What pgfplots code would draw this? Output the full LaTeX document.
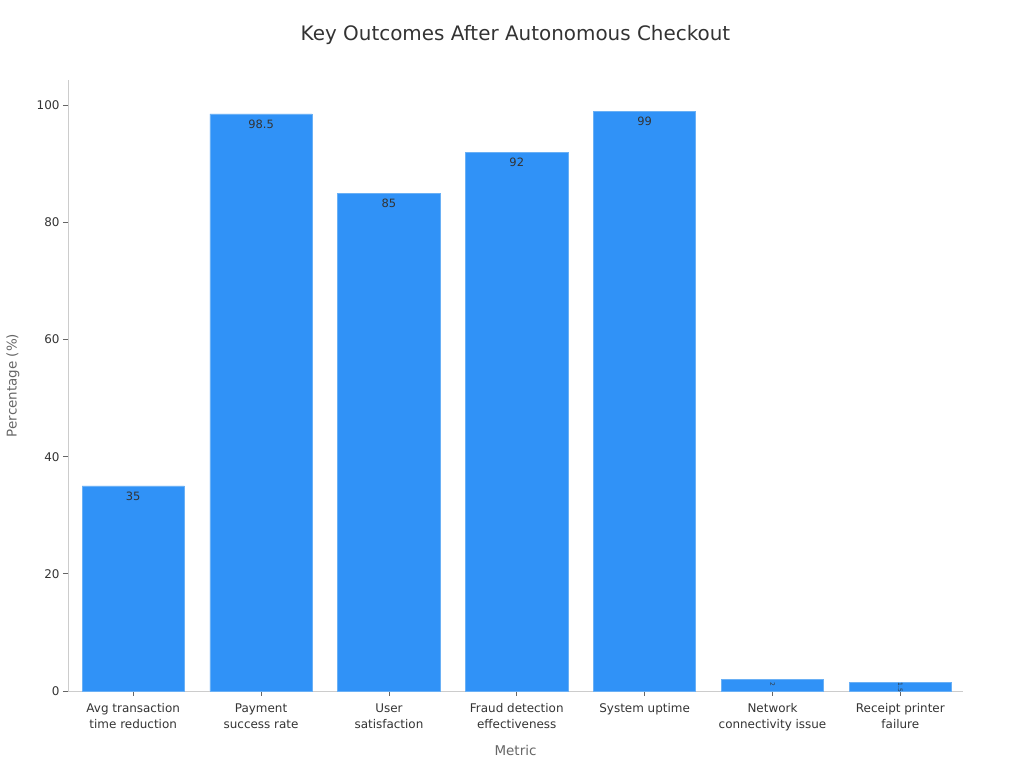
\documentclass[border=0pt]{standalone}
\usepackage{fontspec}
\setmainfont{DejaVu Sans}
\usepackage{pgfplots}
\pgfplotsset{compat=1.18}

\definecolor{barblue}{HTML}{3092F7}
\definecolor{baredge}{HTML}{6AB0F5}
\definecolor{axisgray}{HTML}{CCCCCC}
\definecolor{textdark}{HTML}{333333}
\definecolor{labelgray}{HTML}{666666}

\begin{document}
\begin{tikzpicture}[x=1bp,y=1bp]
\useasboundingbox (0,0) rectangle (1024,768);
\begin{axis}[
    at={(68bp,77bp)}, anchor=south west,
    scale only axis,
    width=895bp, height=611bp,
    xmin=-0.51, xmax=6.49,
    ymin=0, ymax=104.3,
    axis x line*=bottom,
    axis y line*=left,
    axis line style={axisgray, line width=0.8pt},
    xtick={0,1,2,3,4,5,6},
    xticklabels={Avg transaction\\time reduction, Payment\\success rate, User\\satisfaction, Fraud detection\\effectiveness, System uptime, Network\\connectivity issue, Receipt printer\\failure},
    ytick={0,20,40,60,80,100},
    tick style={labelgray, line width=0.8pt},
    tick align=outside,
    major tick length=5bp,
    x tick label style={font=\fontsize{12}{16}\selectfont, text=textdark, align=center, yshift=-4bp},
    y tick label style={font=\fontsize{12}{14}\selectfont, text=textdark},
    /pgf/number format/assume math mode=true,
    xlabel={Metric},
    ylabel={Percentage (\%)},
    xlabel style={at={(axis description cs:0.5,-0.0966)}, anchor=center, font=\fontsize{13.5}{16}\selectfont, text=labelgray},
    ylabel style={at={(axis description cs:-0.0615,0.5)}, anchor=center, rotate=0, font=\fontsize{13.5}{16}\selectfont, text=labelgray},
    title={Key Outcomes After Autonomous Checkout},
    title style={at={(axis description cs:0.5,1.064)}, anchor=center, font=\fontsize{20}{24}\selectfont, text=textdark},
    ybar, bar width=0.8, bar shift=0,
    clip=false,
]
\addplot[fill=barblue, draw=baredge, line width=0.6pt,
    nodes near coords,
    nodes near coords style={anchor=north, yshift=-2bp, font=\fontsize{11.5}{13}\selectfont, text=textdark, /pgf/number format/assume math mode=true},
    point meta=explicit symbolic]
    coordinates {(0,35)[35] (1,98.5)[98.5] (2,85)[85] (3,92)[92] (4,99)[99]};
\addplot[fill=barblue, draw=baredge, line width=0.6pt,
    nodes near coords,
    nodes near coords style={yshift=-5bp, anchor=center, font=\fontsize{6}{7}\selectfont, text=textdark, rotate=-90},
    point meta=explicit symbolic]
    coordinates {(5,2)[2] (6,1.5)[1.5]};
\end{axis}
\end{tikzpicture}
\end{document}
